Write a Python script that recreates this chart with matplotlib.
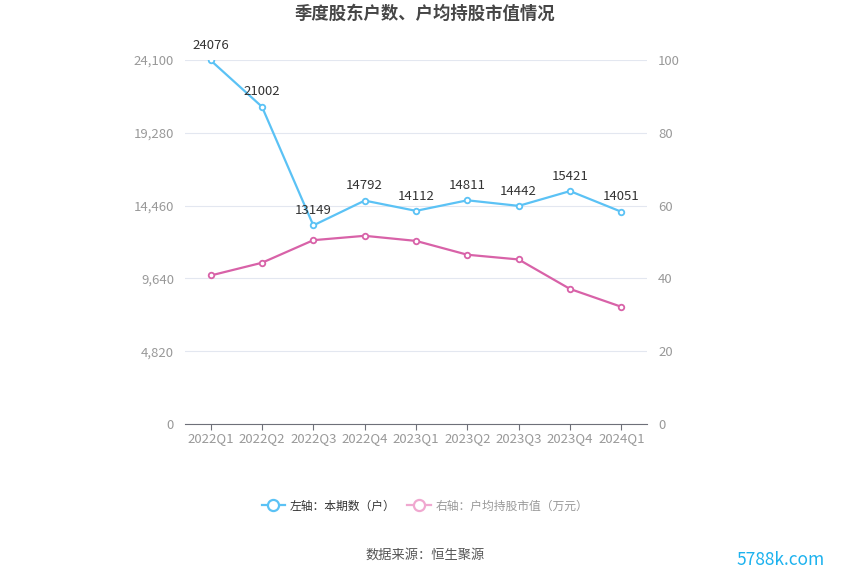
import matplotlib.pyplot as plt
from matplotlib.ticker import FuncFormatter
from matplotlib.lines import Line2D

plt.rcParams['font.family'] = ['Noto Sans CJK SC', 'DejaVu Sans']

quarters = ['2022Q1', '2022Q2', '2022Q3', '2022Q4', '2023Q1', '2023Q2', '2023Q3', '2023Q4', '2024Q1']
holders = [24076, 21002, 13149, 14792, 14112, 14811, 14442, 15421, 14051]
avg_value = [40.8, 44.3, 50.5, 51.7, 50.3, 46.5, 45.2, 37.1, 32.2]
left_ticks = [0, 4820, 9640, 14460, 19280, 24100]
right_ticks = [0, 20, 40, 60, 80, 100]

blue = '#5BC2F5'
pink = '#D862A8'
grey = '#999999'

fig = plt.figure(figsize=(8.5, 5.75), dpi=100)
ax = fig.add_axes([185/850, 1-424/575, 462/850, 364/575])
ax2 = ax.twinx()

x = list(range(len(quarters)))
ax.plot(x, holders, color=blue, lw=1.6, marker='o', ms=4, mfc='white', mec=blue, mew=1.3, zorder=5)
ax2.plot(x, avg_value, color=pink, lw=1.6, marker='o', ms=4, mfc='white', mec=pink, mew=1.3, zorder=5)

for i, v in enumerate(holders):
    ax.annotate(str(v), (i, v), xytext=(0, 6), textcoords='offset points',
                ha='center', va='bottom', fontsize=9.5, color='#333333', zorder=6)

ax.set_xlim(-0.5, len(quarters) - 0.5)
ax.set_ylim(0, 24100)
ax2.set_ylim(0, 100)
ax.set_yticks(left_ticks)
ax2.set_yticks(right_ticks)
ax.yaxis.set_major_formatter(FuncFormatter(lambda v, p: f'{int(v):,}'))
ax.set_xticks(x)
ax.set_xticklabels(quarters)

ax.grid(axis='y', color='#E3E7F0', lw=0.8)
ax.set_axisbelow(True)
for a in (ax, ax2):
    for s in ('top', 'left', 'right', 'bottom'):
        a.spines[s].set_visible(False)
ax.spines['bottom'].set_visible(True)
ax.spines['bottom'].set_color('#6E7079')
ax.tick_params(axis='x', colors='#6E7079', labelcolor=grey, labelsize=9.5, length=4, pad=2)
ax.tick_params(axis='y', length=0, labelcolor=grey, labelsize=9.5, pad=8)
ax2.tick_params(axis='y', length=0, labelcolor=grey, labelsize=9.5, pad=8)

fig.text(0.5, 1-14/575, '季度股东户数、户均持股市值情况', ha='center', va='center',
         fontsize=12.5, fontweight='bold', color='#464646')

handles = [
    Line2D([0], [0], color=blue, lw=1.6, marker='o', ms=8, mfc='white', mec=blue, mew=1.6),
    Line2D([0], [0], color='#F0A8D0', lw=1.6, marker='o', ms=8, mfc='white', mec='#F0A8D0', mew=1.6),
]
leg = fig.legend(handles, ['左轴：本期数（户）', '右轴：户均持股市值（万元）'], loc='center',
                 bbox_to_anchor=(0.5, 1-506/575), ncol=2, frameon=False, fontsize=8.5,
                 handlelength=2.0, columnspacing=1.0, handletextpad=0.4)
leg.get_texts()[0].set_color('#333333')
leg.get_texts()[1].set_color(grey)

fig.text(0.5, 1-555/575, '数据来源：恒生聚源', ha='center', va='center', fontsize=9.5, color='#555555')
fig.text(1-25/850, 1-560/575, '5788k.com', ha='right', va='center', fontsize=12.5, color='#1DB2EE')

fig.savefig('out.png', dpi=100)
